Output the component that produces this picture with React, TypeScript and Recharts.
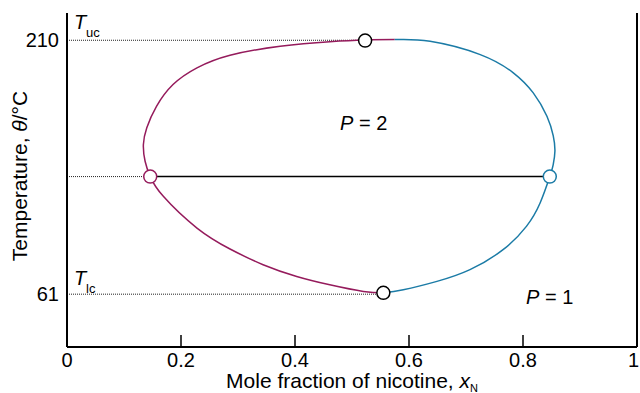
import React from "react";
import { ComposedChart, Line, Scatter, XAxis, YAxis, ReferenceLine } from "recharts";

const FONT = '"Liberation Sans", Arial, sans-serif';
const PURPLE = "#951b5c";
const BLUE = "#1b7ba6";

const xTicks = [0, 0.2, 0.4, 0.6, 0.8, 1];
const yTicks = [61, 210];
const T_UC = 210;
const T_LC = 61;
const T_TIE = 130;

// water-rich branch
const purpleX = [0.575, 0.523, 0.461, 0.374, 0.286, 0.228, 0.186, 0.157, 0.14, 0.134, 0.137, 0.146, 0.169, 0.228, 0.286, 0.344, 0.403, 0.461, 0.52, 0.555];
const purpleY = [210.4, 210.2, 209.2, 206.5, 201.2, 193.8, 184, 171.2, 158.7, 148.8, 139, 130, 118.4, 99.8, 87.5, 78.3, 71.4, 66.5, 62.6, 61.8];

// nicotine-rich branch
const blueX = [0.575, 0.637, 0.725, 0.783, 0.818, 0.842, 0.853, 0.856, 0.853, 0.847, 0.83, 0.806, 0.765, 0.707, 0.649, 0.59, 0.555];
const blueY = [210.4, 209.4, 201.6, 190.9, 179.1, 165.4, 154, 145, 137, 130, 114.5, 100.8, 87.1, 75.4, 68.5, 63.6, 61.8];

const markerX = [0.523, 0.146, 0.847, 0.555];
const markerY = [209.8, T_TIE, T_TIE, 61.8];
const markerColor = ["#000", PURPLE, BLUE, "#000"];

const toPts = (xs: number[], ys: number[]) => xs.map((x, i) => ({ x, y: ys[i] }));

const purpleData = toPts(purpleX, purpleY);
const blueData = toPts(blueX, blueY);
const markers = markerX.map((x, i) => ({ x, y: markerY[i], c: markerColor[i] }));
const tieLine = toPts([markerX[1], markerX[2]], [T_TIE, T_TIE]);
const dotUpper = toPts([0, markerX[0]], [T_UC, T_UC]);
const dotTie = toPts([0, markerX[1]], [T_TIE, T_TIE]);
const dotLower = toPts([0, markerX[3]], [T_LC, T_LC]);

function XTick({ x, y, payload }: any) {
  const v = payload.value;
  const last = v === 1;
  return (
    <g>
      {v > 0 && v < 1 && <line x1={x} x2={x} y1={y} y2={y - 12} stroke="#000" strokeWidth={1.5} />}
      <text
        x={last ? x + 2 : x}
        y={y + 20}
        textAnchor={last ? "end" : "middle"}
        fontSize={20}
        fontFamily={FONT}
        fill="#000"
      >
        {String(v)}
      </text>
    </g>
  );
}

function Marker({ cx, cy, payload }: any) {
  return <circle cx={cx} cy={cy} r={6.5} fill="#fff" stroke={payload.c} strokeWidth={1.5} />;
}

export default function App() {
  return (
    <div style={{ position: "absolute", left: 0, top: 0, width: 640, height: 393, background: "#fff" }}>
      <ComposedChart width={640} height={393} margin={{ top: 13, right: 3, bottom: 0, left: 0 }}>
        <XAxis
          type="number"
          dataKey="x"
          domain={[0, 1]}
          ticks={xTicks}
          height={46}
          tickLine={false}
          tickSize={0}
          tickMargin={0}
          tick={<XTick />}
          axisLine={{ stroke: "#000", strokeWidth: 2 }}
          interval={0}
          allowDataOverflow
        />
        <YAxis
          type="number"
          dataKey="y"
          domain={[30, 226]}
          ticks={yTicks}
          width={67}
          tickLine={false}
          tickSize={0}
          tickMargin={8}
          interval={0}
          tick={{ fontSize: 20, fill: "#000", fontFamily: FONT }}
          axisLine={{ stroke: "#000", strokeWidth: 2 }}
          allowDataOverflow
        />
        <ReferenceLine x={1} stroke="#000" strokeWidth={2} />
        <Line data={dotUpper} dataKey="y" stroke="#222" strokeWidth={1} strokeDasharray="1 1" dot={false} isAnimationActive={false} />
        <Line data={dotTie} dataKey="y" stroke="#222" strokeWidth={1} strokeDasharray="1 1" dot={false} isAnimationActive={false} />
        <Line data={dotLower} dataKey="y" stroke="#222" strokeWidth={1} strokeDasharray="1 1" dot={false} isAnimationActive={false} />
        <Line data={tieLine} dataKey="y" stroke="#000" strokeWidth={1.5} dot={false} isAnimationActive={false} />
        <Line data={purpleData} dataKey="y" type="natural" stroke={PURPLE} strokeWidth={1.5} dot={false} isAnimationActive={false} />
        <Line data={blueData} dataKey="y" type="natural" stroke={BLUE} strokeWidth={1.5} dot={false} isAnimationActive={false} />
        <Scatter data={markers} dataKey="y" shape={<Marker />} isAnimationActive={false} />
      </ComposedChart>
      <svg width={640} height={393} style={{ position: "absolute", left: 0, top: 0, pointerEvents: "none" }} fontFamily={FONT} fill="#000">
        <text x={74} y={29} fontSize={20} fontStyle="italic">T</text>
        <text x={86} y={36.5} fontSize={13}>uc</text>
        <text x={74} y={285} fontSize={20} fontStyle="italic">T</text>
        <text x={86} y={292.5} fontSize={13}>lc</text>
        <text x={340} y={130} fontSize={20}>
          <tspan fontStyle="italic">P</tspan> = 2
        </text>
        <text x={526} y={304} fontSize={20}>
          <tspan fontStyle="italic">P</tspan> = 1
        </text>
        <text x={352} y={388} fontSize={21} textAnchor="middle">
          Mole fraction of nicotine, <tspan fontStyle="italic">x</tspan>
          <tspan fontSize={11} dy={4}>N</tspan>
        </text>
        <text x={19} y={176} fontSize={21} textAnchor="middle" dominantBaseline="central" transform="rotate(-90 19 176)">
          Temperature, <tspan fontStyle="italic">θ</tspan>/°C
        </text>
      </svg>
    </div>
  );
}
